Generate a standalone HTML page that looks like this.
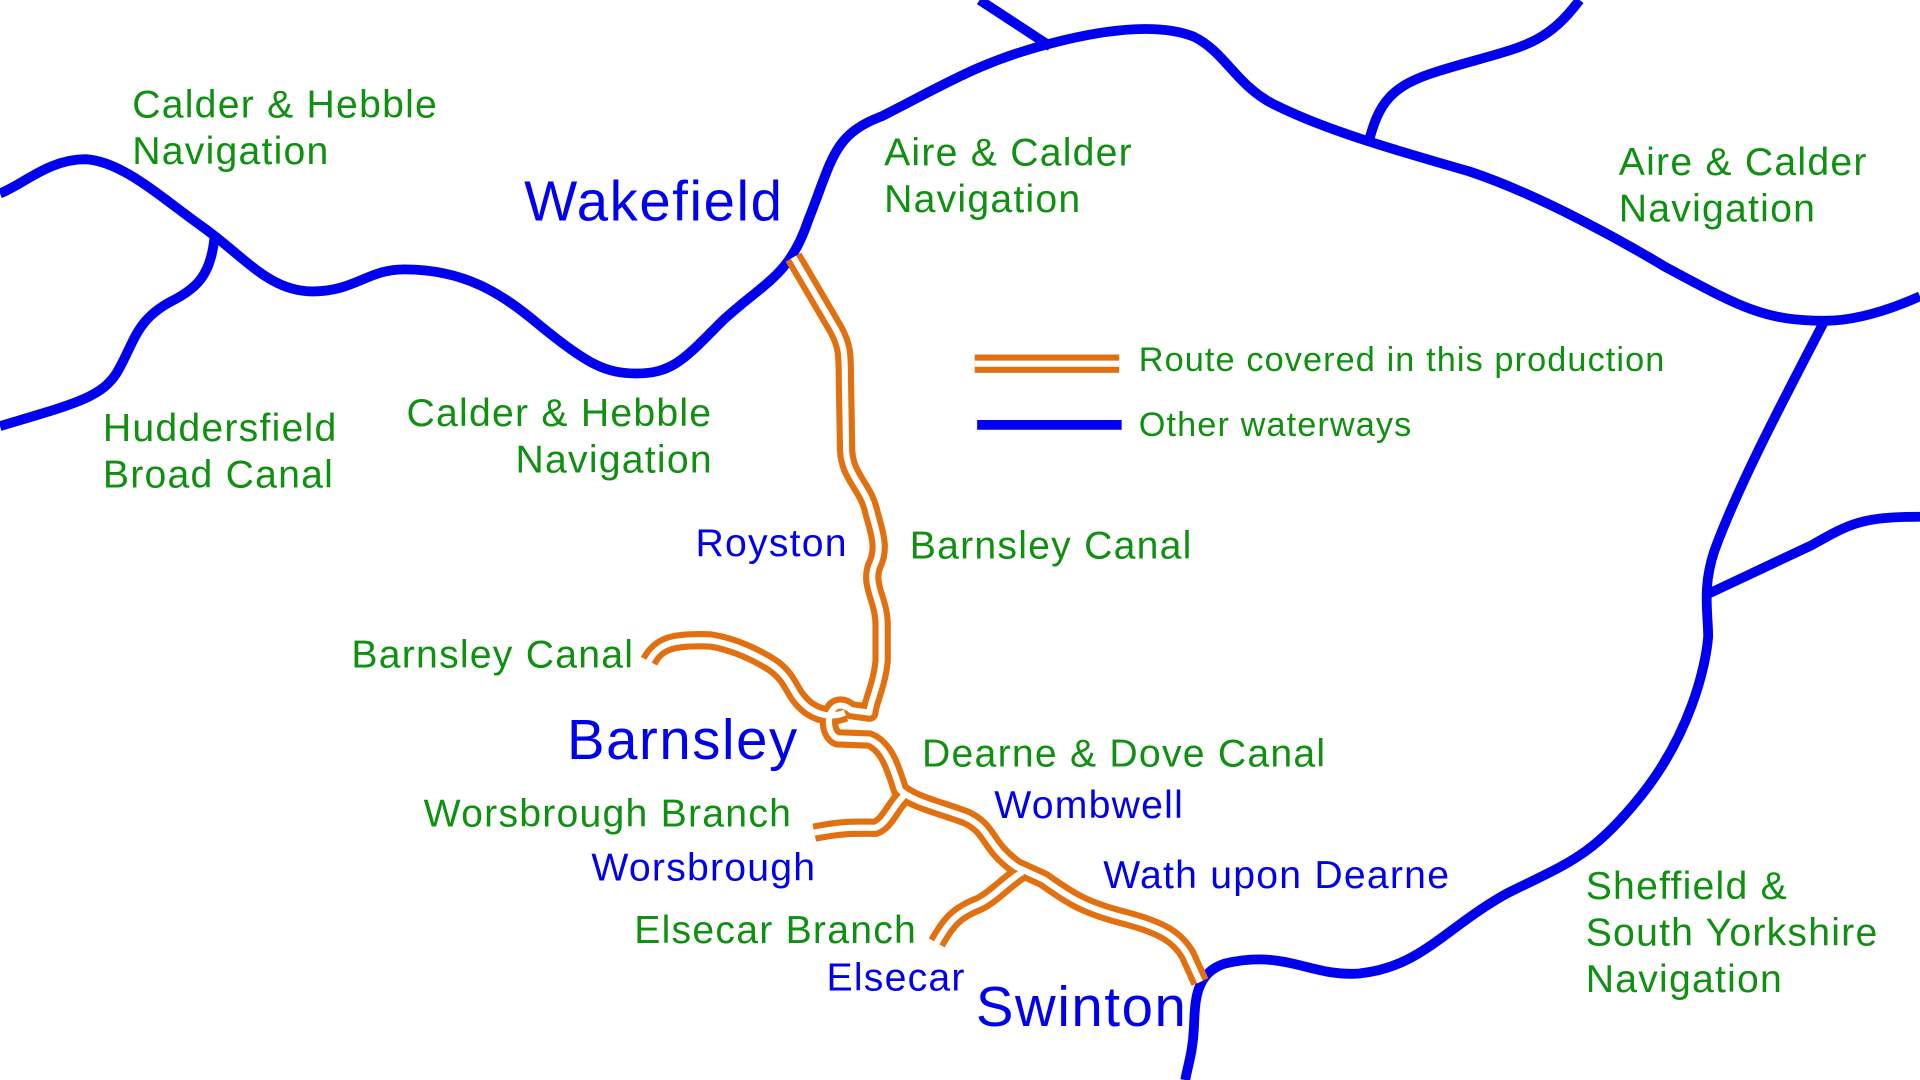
<!DOCTYPE html>
<html><head><meta charset="utf-8"><style>
html,body{margin:0;padding:0;background:#fff;width:1920px;height:1080px;overflow:hidden}
svg{display:block}
text{font-family:"Liberation Sans",Arial,sans-serif;font-size:32px;letter-spacing:1px}
.g{fill:#109010}.b{fill:#0000ee}.L{font-size:46px;letter-spacing:1.3px}
</style></head><body>
<svg width="1920" height="1080" viewBox="0 0 1568 882">
<g fill="none" stroke="#0000ee" stroke-width="8" stroke-linecap="butt" stroke-linejoin="round">
<path d="M0,158 C20,150 40,130 70,130 C100,132 130,160 165,185 C200,210 220,238 255,238 C290,238 300,220 330,220 C380,220 410,240 440,265 C480,298 495,305 520,305 C550,305 560,292 590,262 C625,230 645,225 660,180 C680,130 680,110 720,95 C770,70 800,50 860,35 C910,22 950,20 975,30 C1000,42 1010,70 1040,85 C1080,105 1130,120 1200,140 C1260,160 1330,200 1360,218 C1420,250 1440,262 1490,262 C1520,262 1550,250 1568,242"/>
<path d="M800,0 L858,38"/>
<path d="M175,195 C172,225 160,236 140,246 C110,262 110,280 95,305 C82,325 60,330 0,348"/>
<path d="M1118,115 C1126,85 1135,70 1175,58 C1240,38 1260,40 1290,0"/>
<path d="M1490,262 C1460,320 1420,395 1400,450 C1390,480 1395,500 1395,520 C1393,545 1380,600 1340,650 C1300,700 1280,705 1230,730 C1180,758 1160,790 1110,795 C1070,798 1050,775 1000,787 C975,795 976,820 975,840 C974,860 970,870 968,882"/>
<path d="M1395,485 L1480,445 C1510,428 1520,422 1568,422"/>
</g>
<g fill="none" stroke-linejoin="round">
<g stroke="#e07010" stroke-width="15">
<path id="m" d="M648,210 L682,268 C690,282 690,290 690,310 L691,368 C692,390 708,398 712,420 C718,440 720,450 714,462 C708,478 720,490 720,510 L720,540 C718,560 710,575 710,582 L695,580 C688,574 682,576 680,580 C675,585 676,600 684,603 L710,604 C725,610 730,630 735,645 C745,655 770,660 790,668 C810,678 805,690 830,708 L852,718 C870,730 880,740 920,750 C950,758 962,766 970,780 L980,802"/>
<path id="w" d="M530,540 C538,525 550,522 580,523 C600,526 620,536 632,544 C648,556 645,566 660,578 C670,585 680,586 690,582"/>
<path id="s" d="M665,680 C690,675 700,676 715,676 C725,672 728,660 738,650"/>
<path id="e" d="M765,770 C775,752 782,745 800,738 C812,732 822,720 835,712"/>
</g>
<g stroke="#fff" stroke-width="5">
<use href="#m"/><use href="#w"/><use href="#s"/><use href="#e"/>
</g>
<path d="M796,297 L914,297" stroke="#e07010" stroke-width="15"/>
<path d="M796,297 L914,297" stroke="#fff" stroke-width="5"/>
<path d="M798,347 L916,347" stroke="#0000ee" stroke-width="8"/>
</g>
<text class="g" x="108" y="96">Calder &amp; Hebble</text>
<text class="g" x="108" y="134">Navigation</text>
<text class="b L" x="428" y="180">Wakefield</text>
<text class="g" x="722" y="135">Aire &amp; Calder</text>
<text class="g" x="722" y="173">Navigation</text>
<text class="g" x="1322" y="143">Aire &amp; Calder</text>
<text class="g" x="1322" y="181">Navigation</text>
<text class="g" x="930" y="303" style="font-size:28px;letter-spacing:0.9px">Route covered in this production</text>
<text class="g" x="930" y="356" style="font-size:28px;letter-spacing:0.9px">Other waterways</text>
<text class="g" x="84" y="360">Huddersfield</text>
<text class="g" x="84" y="398">Broad Canal</text>
<text class="g" x="332" y="348">Calder &amp; Hebble</text>
<text class="g" x="421" y="386">Navigation</text>
<text class="b" x="568" y="454">Royston</text>
<text class="g" x="743" y="456">Barnsley Canal</text>
<text class="g" x="287" y="545">Barnsley Canal</text>
<text class="b L" x="463" y="620">Barnsley</text>
<text class="g" x="753" y="626">Dearne &amp; Dove Canal</text>
<text class="b" x="812" y="668">Wombwell</text>
<text class="g" x="346" y="675">Worsbrough Branch</text>
<text class="b" x="483" y="719">Worsbrough</text>
<text class="b" x="901" y="725">Wath upon Dearne</text>
<text class="g" x="518" y="770">Elsecar Branch</text>
<text class="b" x="675" y="809">Elsecar</text>
<text class="b L" x="797" y="838">Swinton</text>
<text class="g" x="1295" y="734">Sheffield &amp;</text>
<text class="g" x="1295" y="772">South Yorkshire</text>
<text class="g" x="1295" y="810">Navigation</text>
</svg>
</body></html>
